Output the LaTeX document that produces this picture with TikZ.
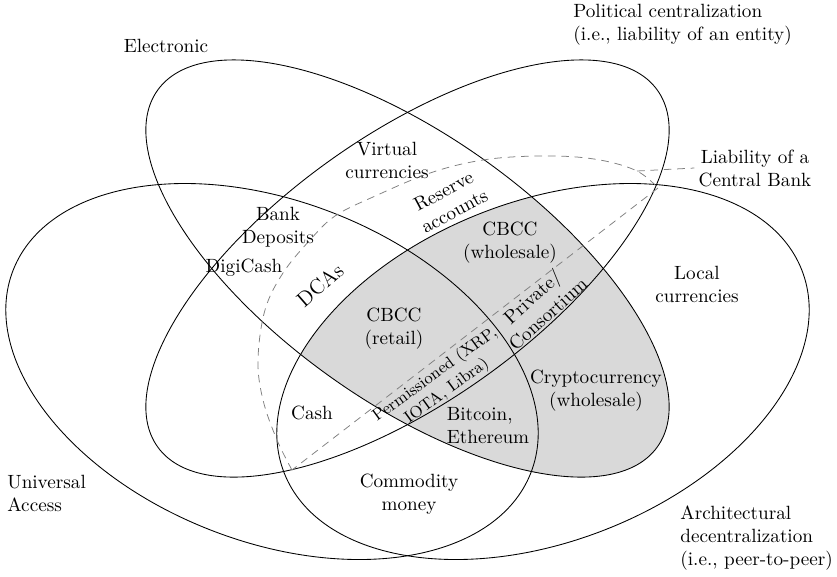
\documentclass[tikz,border=0pt]{standalone}
\begin{document}
\begin{tikzpicture}[x=0.5217pt,y=-0.5217pt,
  venn/.style={draw=black, line width=0.45pt},
  cbline/.style={draw=black!50, line width=0.4pt, dash pattern=on 4pt off 3pt},
  lbl/.style={inner sep=0pt, align=center, font=\fontsize{10}{12}\selectfont},
  lbll/.style={inner sep=0pt, align=left, font=\fontsize{10}{12}\selectfont},
  lbls/.style={inner sep=0pt, align=center, font=\fontsize{8.6}{10.6}\selectfont}]
\useasboundingbox (0,0) rectangle (837,576);

% shaded region: Electronic AND Architectural decentralization
\begin{scope}
  \clip[rotate around={-35.5:(407.5,268.5)}] (407.5,268.5) ellipse [x radius=307, y radius=133];
  \fill[black!15, rotate around={21.4:(543,371.5)}] (543,371.5) ellipse [x radius=278, y radius=170];
\end{scope}

% the four sets
\draw[venn, rotate around={-35.5:(407.5,268.5)}] (407.5,268.5) ellipse [x radius=307, y radius=133];
\draw[venn, rotate around={35.5:(407.5,268.5)}] (407.5,268.5) ellipse [x radius=307, y radius=133];
\draw[venn, rotate around={-21.4:(272,371.5)}] (272,371.5) ellipse [x radius=278, y radius=170];
\draw[venn, rotate around={21.4:(543,371.5)}] (543,371.5) ellipse [x radius=278, y radius=170];

% liability of a central bank
\coordinate (cbtop) at (658,188);
\coordinate (cbbot) at (292,470);
\coordinate (cblead) at (637,171);
\draw[cbline] (cbtop) -- (cbbot)
  plot[smooth, tension=0.6] coordinates {(292,470) (277,440) (263,400) (258,360) (265,310) (283,273) (310,240) (335,216) (373,197) (433,172) (490,159) (553,156) (600,160) (637,171) (658,188)};

% outer labels
\node[lbl] (elec) at (166,46) {Electronic};
\node[lbll, anchor=west] (polc) at (573,25) {Political centralization\\(i.e., liability of an entity)};
\node[lbl] (liab) at (755,168) {Liability of a\\Central Bank};
\node[lbl] (local) at (697,284) {Local\\currencies};
\node[lbll, anchor=west] (univ) at (7,493) {Universal\\Access};
\node[lbll, anchor=west] (arch) at (680,538) {Architectural\\decentralization\\(i.e., peer-to-peer)};
\draw[cbline] (cblead) -- ([xshift=-2pt]liab.west);

% inner labels
\node[lbl] (virt) at (387,160) {Virtual\\currencies};
\node[lbl, rotate=28] (resv) at (449,201) {Reserve\\accounts};
\node[lbl] (bank) at (278,227) {Bank\\Deposits};
\node[lbl] (digi) at (244,268) {DigiCash};
\node[lbl, rotate=41, font=\fontsize{11}{13}\selectfont] (dcas) at (320,285) {DCAs};
\node[lbl] (cbw) at (510,243) {CBCC\\(wholesale)};
\node[lbl] (cbr) at (394,329) {CBCC\\(retail)};
\node[lbls, rotate=36] (perm) at (441,383) {Permissioned (XRP,\\IOTA, Libra)};
\node[lbl, rotate=42] (priv) at (540,305) {Private/\\Consortium};
\node[lbl] (cash) at (312,413) {Cash};
\node[lbll] (btc) at (488,426) {Bitcoin,\\Ethereum};
\node[lbl] (crypto) at (596,391) {Cryptocurrency\\(wholesale)};
\node[lbl] (comm) at (409,494) {Commodity\\money};
\end{tikzpicture}
\end{document}
